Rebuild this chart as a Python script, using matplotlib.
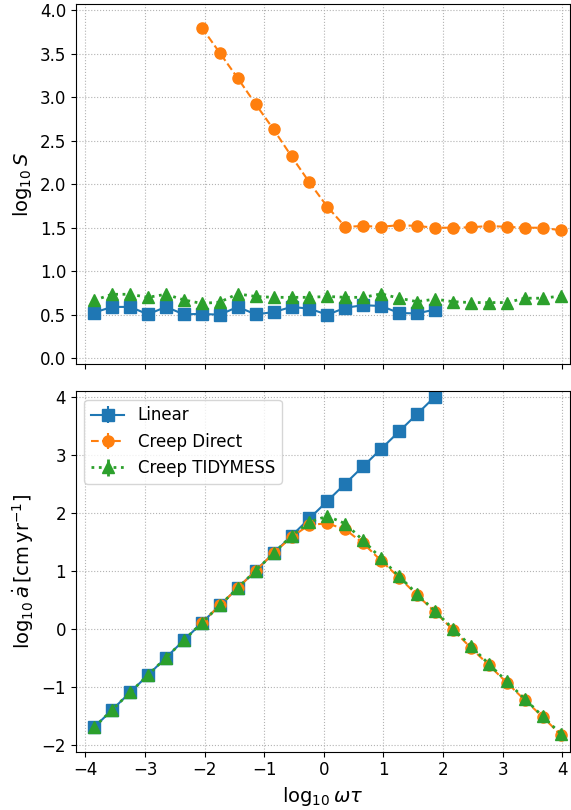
import numpy as np
import matplotlib
matplotlib.use('Agg')
import matplotlib.pyplot as plt

# log10(omega*tau) sample points
x = [-3.855, -3.554, -3.253, -2.951, -2.650, -2.349, -2.048, -1.747, -1.446,
     -1.144, -0.843, -0.542, -0.241, 0.060, 0.361, 0.662, 0.964, 1.265,
     1.566, 1.867, 2.168, 2.469, 2.771, 3.072, 3.373, 3.674, 3.975]

# top panel: log10 S
S_linear = [0.525, 0.59, 0.59, 0.505, 0.59, 0.505, 0.51, 0.50, 0.59, 0.505,
            0.53, 0.59, 0.57, 0.50, 0.58, 0.61, 0.60, 0.52, 0.515, 0.56]
S_direct = [3.80, 3.51, 3.22, 2.92, 2.63, 2.32, 2.02, 1.74, 1.51, 1.52, 1.51,
            1.53, 1.52, 1.50, 1.50, 1.505, 1.52, 1.51, 1.50, 1.50, 1.47]
S_tidy = [0.666, 0.735, 0.735, 0.70, 0.735, 0.67, 0.63, 0.645, 0.74, 0.71,
          0.70, 0.70, 0.70, 0.71, 0.70, 0.70, 0.74, 0.69, 0.65, 0.68, 0.65,
          0.64, 0.64, 0.64, 0.69, 0.69, 0.715]

# bottom panel: log10 adot [cm/yr]
a_linear = [-1.7, -1.4, -1.1, -0.8, -0.5, -0.2, 0.1, 0.4, 0.7, 1.0, 1.3, 1.6,
            1.9, 2.2, 2.5, 2.8, 3.1, 3.4, 3.7, 4.0]
a_direct = [0.1, 0.4, 0.7, 1.0, 1.3, 1.58, 1.79, 1.815, 1.71, 1.47, 1.17, 0.88,
            0.58, 0.29, -0.02, -0.33, -0.63, -0.93, -1.23, -1.52, -1.83]
a_tidy = [-1.7, -1.4, -1.1, -0.8, -0.5, -0.2, 0.1, 0.4, 0.7, 1.0, 1.3, 1.6,
          1.84, 1.94, 1.81, 1.52, 1.21, 0.90, 0.60, 0.30, 0.0, -0.30, -0.61,
          -0.91, -1.21, -1.51, -1.81]

n_lin = len(S_linear)
n_dir = len(S_direct)

plt.rcParams['font.size'] = 12

fig, (ax1, ax2) = plt.subplots(2, 1, figsize=(5.71, 8.1), dpi=100, sharex=True)
fig.subplots_adjust(left=0.133, right=0.998, top=0.995, bottom=0.072, hspace=0.075)

err = 0.02
ax1.errorbar(x[:n_lin], S_linear, yerr=err, color='tab:blue', ls='-', marker='s', ms=8, label='Linear')
ax1.errorbar(x[-n_dir:], S_direct, yerr=err, color='tab:orange', ls='--', marker='o', ms=8, label='Creep Direct')
ax1.errorbar(x, S_tidy, yerr=err, color='tab:green', ls=':', lw=2, marker='^', ms=8, label='Creep TIDYMESS')

ax2.errorbar(x[:n_lin], a_linear, yerr=err, color='tab:blue', ls='-', marker='s', ms=8, label='Linear')
ax2.errorbar(x[-n_dir:], a_direct, yerr=err, color='tab:orange', ls='--', marker='o', ms=8, label='Creep Direct')
ax2.errorbar(x, a_tidy, yerr=err, color='tab:green', ls=':', lw=2, marker='^', ms=8, label='Creep TIDYMESS')

ax1.set_ylim(-0.07, 4.07)
ax2.set_ylim(-2.12, 4.09)
ax2.set_xlim(-4.16, 4.13)
ax1.set_yticks(np.arange(0, 4.01, 0.5))
ax2.set_yticks(np.arange(-2, 4.01, 1))
ax2.set_xticks(np.arange(-4, 4.01, 1))

for ax in (ax1, ax2):
    ax.grid(True, ls=':', color='0.7')

ax1.set_ylabel(r'$\log_{10} S$', fontsize=14)
ax2.set_ylabel(r'$\log_{10} \dot{a}\,[\mathrm{cm\,yr^{-1}}]$', fontsize=14)
ax2.set_xlabel(r'$\log_{10} \omega\tau$', fontsize=14)
ax2.legend(loc='upper left', fontsize=12)

plt.savefig('out.png', dpi=100)
